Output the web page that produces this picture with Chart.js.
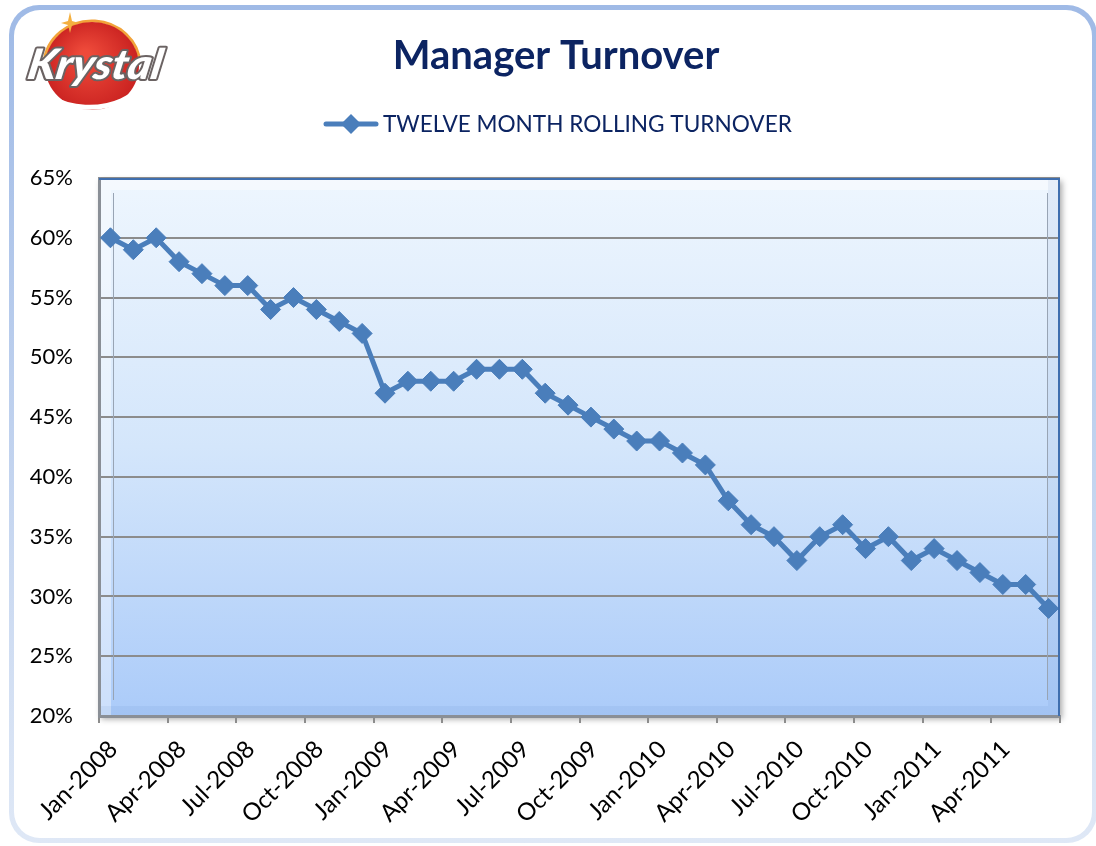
<!DOCTYPE html>
<html>
<head>
<meta charset="utf-8">
<title>Manager Turnover</title>
<script src="https://cdn.jsdelivr.net/npm/chart.js@4.4.1/dist/chart.umd.min.js"></script>
<style>
html, body { margin: 0; padding: 0; background: #fff; }
#wrap { position: relative; width: 1096px; height: 846px; overflow: hidden; }
#frame { position: absolute; left: 9px; top: 5px; width: 1088px; height: 838px; border-radius: 30px;
         background: linear-gradient(#9fbae6, #dfe8f6); }
#inner { position: absolute; left: 5px; top: 5px; right: 5px; bottom: 5px; border-radius: 26px; background: #fff; }
canvas { position: absolute; left: 0; top: 0; }
</style>
</head>
<body>
<div id="wrap">
  <div id="frame"><div id="inner"></div></div>
  <canvas id="chart" width="1096" height="846"></canvas>
</div>
<script>
// data
var months = [
  'Jan-2008', 'Feb-2008', 'Mar-2008', 'Apr-2008', 'May-2008', 'Jun-2008',
  'Jul-2008', 'Aug-2008', 'Sep-2008', 'Oct-2008', 'Nov-2008', 'Dec-2008',
  'Jan-2009', 'Feb-2009', 'Mar-2009', 'Apr-2009', 'May-2009', 'Jun-2009',
  'Jul-2009', 'Aug-2009', 'Sep-2009', 'Oct-2009', 'Nov-2009', 'Dec-2009',
  'Jan-2010', 'Feb-2010', 'Mar-2010', 'Apr-2010', 'May-2010', 'Jun-2010',
  'Jul-2010', 'Aug-2010', 'Sep-2010', 'Oct-2010', 'Nov-2010', 'Dec-2010',
  'Jan-2011', 'Feb-2011', 'Mar-2011', 'Apr-2011', 'May-2011', 'Jun-2011'
];
var turnover = [
  60, 59, 60, 58, 57, 56, 56, 54, 55, 54, 53, 52,
  47, 48, 48, 48, 49, 49, 49, 47, 46, 45, 44, 43,
  43, 42, 41, 38, 36, 35, 33, 35, 36, 34, 35, 33,
  34, 33, 32, 31, 31, 29
];
var seriesName = 'TWELVE MONTH ROLLING TURNOVER';
var chartTitle = 'Manager Turnover';
var yMin = 20, yMax = 65, yStep = 5;
var labelEvery = 3;

var lineColor = '#4a7ebb';
var navy = '#0c2462';
var fontFam = 'Lato, "Open Sans", sans-serif';

function drawLogo(ctx) {
  ctx.save();
  // orange rim
  ctx.beginPath();
  ctx.ellipse(92, 66, 48, 45, 0, Math.PI * 1.02, Math.PI * 1.98);
  ctx.strokeStyle = '#f2a33a';
  ctx.lineWidth = 3;
  ctx.stroke();
  // red disc
  var g = ctx.createRadialGradient(85, 55, 5, 92, 66, 50);
  g.addColorStop(0, '#ee4a3a');
  g.addColorStop(1, '#c8201f');
  ctx.beginPath();
  ctx.ellipse(92, 66, 47, 44, 0, 0, Math.PI * 2);
  ctx.fillStyle = g;
  ctx.fill();
  // sparkle
  ctx.fillStyle = '#f4b040';
  ctx.beginPath();
  ctx.moveTo(70, 12); ctx.lineTo(72, 21); ctx.lineTo(79, 23); ctx.lineTo(72, 25);
  ctx.lineTo(70, 33); ctx.lineTo(68, 25); ctx.lineTo(61, 23); ctx.lineTo(68, 21);
  ctx.closePath();
  ctx.fill();
  // white swoosh
  ctx.beginPath();
  ctx.moveTo(30, 74);
  ctx.bezierCurveTo(45, 114, 122, 122, 150, 76);
  ctx.strokeStyle = '#fff';
  ctx.lineWidth = 5;
  ctx.stroke();
  // word mark
  ctx.font = 'italic 900 42px ' + fontFam;
  var w = ctx.measureText('Krystal').width;
  ctx.translate(26, 79);
  ctx.transform(1, 0, -0.18, 1, 0, 0);
  ctx.scale(134 / w, 1);
  ctx.lineJoin = 'round';
  ctx.strokeStyle = '#6b6363';
  ctx.lineWidth = 4;
  ctx.strokeText('Krystal', 0, 0);
  ctx.fillStyle = '#fff';
  ctx.fillText('Krystal', 0, 0);
  ctx.restore();
}

var plotDecor = {
  id: 'plotDecor',
  beforeDraw: function (chart) {
    var ctx = chart.ctx, a = chart.chartArea;
    ctx.save();
    var g = ctx.createLinearGradient(0, a.top, 0, a.bottom);
    g.addColorStop(0, '#eef6fe');
    g.addColorStop(0.5, '#d4e6fb');
    g.addColorStop(1, '#abcbf9');
    ctx.shadowColor = 'rgba(0,0,0,0.35)';
    ctx.shadowBlur = 6;
    ctx.shadowOffsetX = 2;
    ctx.shadowOffsetY = 3;
    ctx.fillStyle = g;
    ctx.fillRect(a.left, a.top, a.right - a.left, a.bottom - a.top);
    ctx.restore();
    // bevel highlight and shade
    ctx.save();
    ctx.fillStyle = 'rgba(255,255,255,0.4)';
    ctx.fillRect(a.left, a.top, a.right - a.left, 12);
    ctx.fillRect(a.left, a.top + 12, 12, a.bottom - a.top - 12);
    ctx.fillStyle = 'rgba(60,100,170,0.07)';
    ctx.fillRect(a.left, a.bottom - 10, a.right - a.left, 10);
    ctx.fillRect(a.right - 12, a.top, 12, a.bottom - a.top - 10);
    ctx.restore();
  },
  beforeDatasetsDraw: function (chart) {
    var ctx = chart.ctx, a = chart.chartArea;
    ctx.save();
    ctx.strokeStyle = '#98a4b4';
    ctx.lineWidth = 1;
    ctx.beginPath();
    ctx.moveTo(a.left + 14.5, a.top + 15); ctx.lineTo(a.left + 14.5, a.bottom - 16);
    ctx.moveTo(a.right - 12.5, a.top + 15); ctx.lineTo(a.right - 12.5, a.bottom - 16);
    ctx.stroke();
    ctx.restore();
  },
  afterDraw: function (chart) {
    var ctx = chart.ctx, a = chart.chartArea;
    ctx.save();
    // top and right edges of the plot panel
    ctx.strokeStyle = '#3f6eae';
    ctx.lineWidth = 2;
    ctx.beginPath();
    ctx.moveTo(a.left, a.top + 1); ctx.lineTo(a.right - 1, a.top + 1); ctx.lineTo(a.right - 1, a.bottom);
    ctx.stroke();

    // title
    ctx.fillStyle = navy;
    ctx.font = 'bold 40px ' + fontFam;
    ctx.textAlign = 'center';
    ctx.textBaseline = 'middle';
    ctx.fillText(chartTitle, 556, 56);

    // legend
    var ly = 124;
    ctx.strokeStyle = lineColor;
    ctx.lineWidth = 5;
    ctx.lineCap = 'round';
    ctx.beginPath();
    ctx.moveTo(326, ly); ctx.lineTo(376, ly);
    ctx.stroke();
    ctx.fillStyle = lineColor;
    ctx.beginPath();
    ctx.moveTo(351 - 10, ly); ctx.lineTo(351, ly - 10); ctx.lineTo(351 + 10, ly); ctx.lineTo(351, ly + 10);
    ctx.closePath();
    ctx.fill();
    ctx.fillStyle = navy;
    ctx.font = '22.6px ' + fontFam;
    ctx.textAlign = 'left';
    ctx.fillText(chart.data.datasets[0].label, 383, ly + 1);
    ctx.restore();

    drawLogo(ctx);
  }
};

var ctx = document.getElementById('chart').getContext('2d');
var myChart = new Chart(ctx, {
  type: 'line',
  data: {
    labels: months,
    datasets: [{
      label: seriesName,
      data: turnover,
      borderColor: lineColor,
      backgroundColor: lineColor,
      borderWidth: 5,
      pointStyle: 'rectRot',
      pointRadius: 10,
      pointBorderWidth: 1,
      pointBorderColor: lineColor,
      pointBackgroundColor: lineColor,
      tension: 0
    }]
  },
  options: {
    responsive: false,
    animation: false,
    layout: { padding: { left: 0, right: 36, top: 178, bottom: 0 } },
    plugins: {
      legend: { display: false },
      tooltip: { enabled: false },
      title: { display: false }
    },
    scales: {
      x: {
        offset: true,
        grid: {
          offset: true,
          drawOnChartArea: false,
          tickLength: 7,
          lineWidth: 2,
          color: function (c) {
            return (c.index === undefined || c.index % labelEvery === 0) ? '#8c8c8c' : 'rgba(0,0,0,0)';
          }
        },
        border: { display: true, color: '#8a8f96', width: 3 },
        ticks: {
          autoSkip: false,
          minRotation: 45,
          maxRotation: 45,
          padding: 12,
          labelOffset: 3,
          color: '#000',
          font: { family: fontFam, size: 24 },
          callback: function (v, i) { return i % labelEvery === 0 ? months[i] : ''; }
        },
        afterFit: function (s) { s.height = 130; }
      },
      y: {
        min: yMin,
        max: yMax,
        ticks: {
          stepSize: yStep,
          padding: 26,
          color: '#000',
          font: { family: fontFam, size: 22 },
          callback: function (v) { return v + '%'; }
        },
        grid: { color: '#8c8c8c', lineWidth: 2, drawTicks: false },
        border: { display: true, color: '#8a8f96', width: 3 },
        afterFit: function (s) { s.width = 99; }
      }
    }
  },
  plugins: [plotDecor]
});
</script>
</body>
</html>
